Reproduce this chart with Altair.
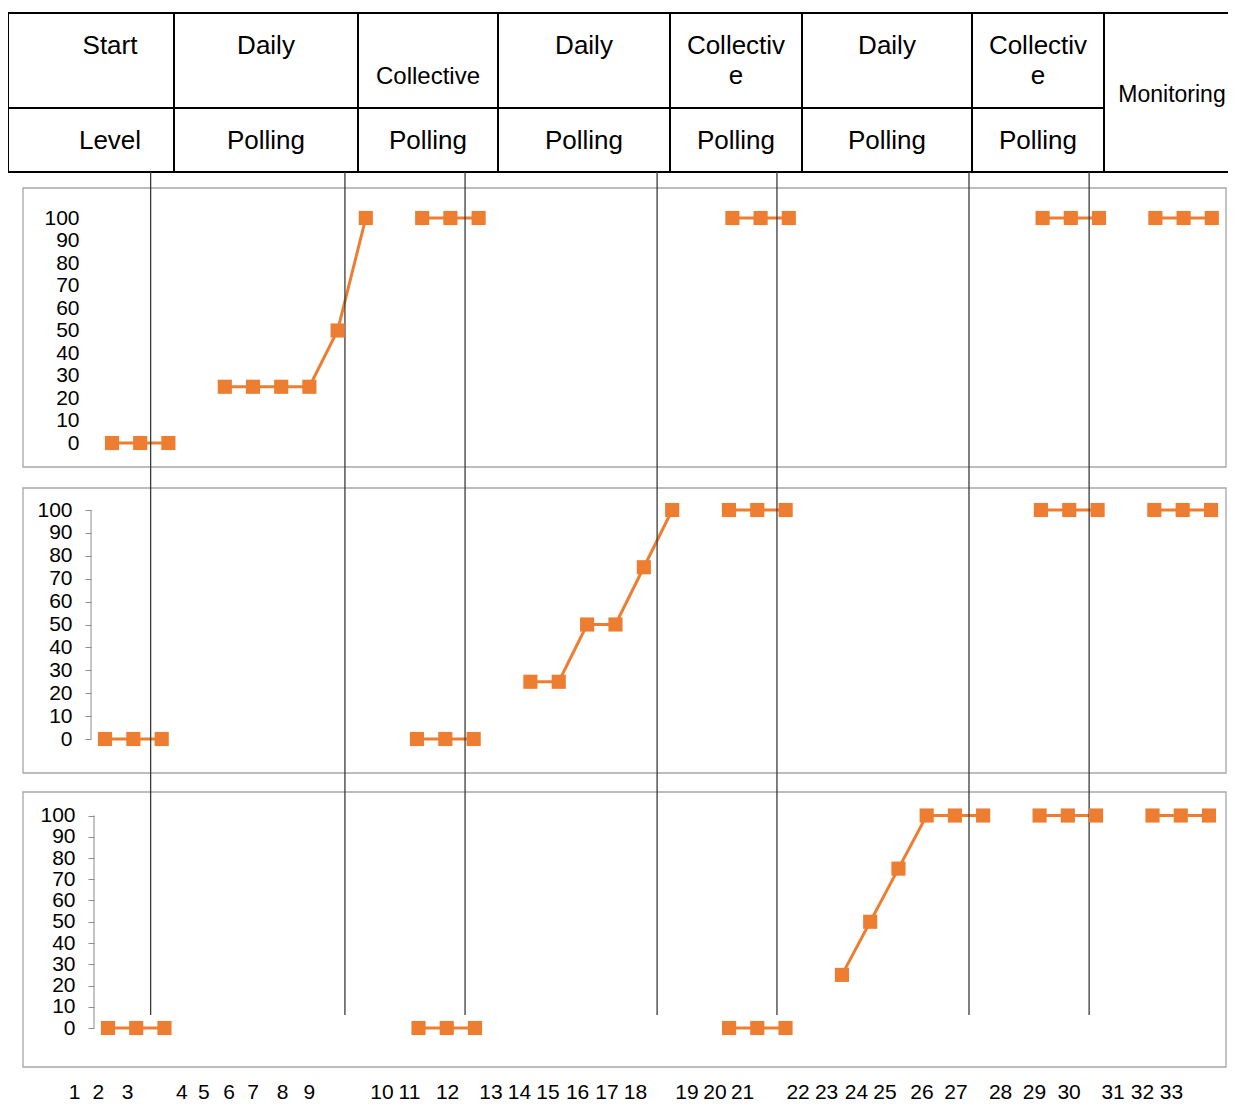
import altair as alt
import pandas as pd

# ---------------- data ----------------
N = None
# 40 category slots per tier (blank slots break the line)
tier1 = [0, 0, 0, N, 25, 25, 25, 25, 50, 100, N, 100, 100, 100,
         N, N, N, N, N, N, N, N, 100, 100, 100,
         N, N, N, N, N, N, N, N, 100, 100, 100, N, 100, 100, 100]
tier2 = [0, 0, 0, N, N, N, N, N, N, N, N, 0, 0, 0,
         N, 25, 25, 50, 50, 75, 100, N, 100, 100, 100,
         N, N, N, N, N, N, N, N, 100, 100, 100, N, 100, 100, 100]
tier3 = [0, 0, 0, N, N, N, N, N, N, N, N, 0, 0, 0,
         N, N, N, N, N, N, N, N, 0, 0, 0,
         N, 25, 50, 75, 100, 100, 100, N, 100, 100, 100, N, 100, 100, 100]

y_ticks = [0, 10, 20, 30, 40, 50, 60, 70, 80, 90, 100]

session_labels = ["1", "2", "3", "4", "5", "6", "7", "8", "9", "10", "11",
                  "12", "13", "14", "15", "16", "17", "18", "19", "20", "21",
                  "22", "23", "24", "25", "26", "27", "28", "29", "30", "31",
                  "32", "33"]
# label positions, in category-slot units (as placed in the original)
label_slots = [-1.33, -0.48, 0.55, 2.48, 3.26, 4.15, 5.00, 6.05, 7.00, 9.57,
               10.55, 11.90, 13.44, 14.45, 15.46, 16.51, 17.55, 18.56, 20.39,
               21.38, 22.36, 24.33, 25.34, 26.40, 27.41, 28.72, 29.93, 31.51,
               32.71, 33.94, 35.50, 36.54, 37.57]
# phase-change lines, in category-slot units
phase_slots = [1.37, 8.26, 12.52, 19.33, 23.58, 30.39, 34.65]

header_top = ["Start", "Daily", "Collective", "Daily", "Collectiv\ne",
              "Daily", "Collectiv\ne", "Monitoring"]
header_bottom = ["Level", "Polling", "Polling", "Polling", "Polling",
                 "Polling", "Polling", ""]

# ---------------- layout ----------------
W, H = 1220, 1095
OX, OY = 8, 8
FONT = "Liberation Sans"
ORANGE = "#ED7D31"
GRAY = "#A6A6A6"

col_edges = [8, 174, 358, 498, 670, 802, 972, 1104]
text_cx = [110, 266, 428, 584, 736, 887, 1038, 1172]
row_y = [13, 108, 172]

panels = [
    dict(x0=112, dx=28.2, y0=443, y100=218, box=(23, 188, 1226, 467),
         axis_x=85, ticks=False, pad=6),
    dict(x0=105, dx=28.36, y0=739, y100=510, box=(23, 488, 1226, 773),
         axis_x=91, ticks=True, pad=13),
    dict(x0=108, dx=28.23, y0=1028, y100=815.5, box=(23, 792, 1226, 1067),
         axis_x=94, ticks=True, pad=13),
]
tiers = [tier1, tier2, tier3]


def page_x():
    return alt.Scale(domain=[OX, OX + W], range=[0, W], zero=False, nice=False)


def page_y():
    return alt.Scale(domain=[OY, OY + H], range=[0, H], zero=False, nice=False)


def slot_x(p):
    return alt.Scale(domain=[(OX - p["x0"]) / p["dx"], (OX + W - p["x0"]) / p["dx"]],
                     zero=False, nice=False)


def val_y(p):
    k = (p["y0"] - p["y100"]) / 100.0
    return alt.Scale(domain=[(p["y0"] - OY - H) / k, (p["y0"] - OY) / k],
                     zero=False, nice=False)


layers = []

# panel frames
box_df = pd.DataFrame([dict(x0=p["box"][0], y0=p["box"][1], x1=p["box"][2], y1=p["box"][3])
                       for p in panels])
layers.append(
    alt.Chart(box_df).mark_rect(fill="white", fillOpacity=0, stroke=GRAY, strokeWidth=1.3)
    .encode(x=alt.X("x0:Q", scale=page_x(), axis=None), x2="x1:Q",
            y=alt.Y("y0:Q", scale=page_y(), axis=None), y2="y1:Q")
)

# header table lines
segs = [dict(x0=8, y0=row_y[0], x1=1245, y1=row_y[0]),
        dict(x0=8, y0=row_y[1], x1=col_edges[-1], y1=row_y[1]),
        dict(x0=8, y0=row_y[2], x1=1245, y1=row_y[2])]
for e in col_edges:
    segs.append(dict(x0=e, y0=row_y[0], x1=e, y1=row_y[2]))
seg_df = pd.DataFrame(segs)
layers.append(
    alt.Chart(seg_df).mark_rule(color="black", strokeWidth=2)
    .encode(x=alt.X("x0:Q", scale=page_x(), axis=None), x2="x1:Q",
            y=alt.Y("y0:Q", scale=page_y(), axis=None), y2="y1:Q")
)

# header texts
rows = []
for i, t in enumerate(header_top):
    if t == "Collective":
        rows.append(dict(text=t, x=text_cx[i], y=83.5, size=24))
    elif t == "Monitoring":
        rows.append(dict(text=t, x=text_cx[i], y=101.5, size=23))
    elif "\n" in t:
        a, b = t.split("\n")
        rows.append(dict(text=a, x=text_cx[i], y=54, size=26))
        rows.append(dict(text=b, x=text_cx[i], y=84, size=26))
    else:
        rows.append(dict(text=t, x=text_cx[i], y=54, size=26))
for i, t in enumerate(header_bottom):
    if t:
        rows.append(dict(text=t, x=text_cx[i], y=149, size=26))
head_df = pd.DataFrame(rows)
layers.append(
    alt.Chart(head_df).mark_text(font=FONT, color="black", align="center", baseline="alphabetic")
    .encode(x=alt.X("x:Q", scale=page_x(), axis=None),
            y=alt.Y("y:Q", scale=page_y(), axis=None),
            text="text:N", size=alt.Size("size:Q", scale=None, legend=None))
)

# tiers: lines
point_layers = []
for p, vals in zip(panels, tiers):
    seg, recs = 0, []
    for s, v in enumerate(vals):
        if v is None:
            seg += 1
        else:
            recs.append(dict(slot=s, value=v, seg=seg))
    df = pd.DataFrame(recs)
    layers.append(
        alt.Chart(df).mark_line(color=ORANGE, strokeWidth=3)
        .encode(x=alt.X("slot:Q", scale=slot_x(p), axis=None),
                y=alt.Y("value:Q", scale=val_y(p), axis=None),
                detail="seg:N")
    )
    if p["ticks"]:
        layers.append(
            alt.Chart(pd.DataFrame([dict(lo=y_ticks[0], hi=y_ticks[-1])]))
            .mark_rule(color="#8C8C8C", strokeWidth=1)
            .encode(x=alt.value(p["axis_x"] - OX),
                    y=alt.Y("lo:Q", scale=val_y(p), axis=None), y2="hi:Q")
        )
    axis = alt.Axis(orient="left", values=y_ticks, offset=-(p["axis_x"] - OX),
                    domain=False, ticks=p["ticks"], tickSize=6 if p["ticks"] else 0,
                    tickColor="#8C8C8C", tickWidth=1, labelPadding=p["pad"],
                    labelFont=FONT, labelFontSize=21, labelColor="black",
                    labelOverlap=False, grid=False, title=None)
    point_layers.append(
        alt.Chart(df).mark_point(shape="square", filled=True, size=200, color=ORANGE, opacity=1)
        .encode(x=alt.X("slot:Q", scale=slot_x(p), axis=None),
                y=alt.Y("value:Q", scale=val_y(p), axis=axis))
    )

# phase-change lines
layers.append(
    alt.Chart(pd.DataFrame(dict(slot=phase_slots))).mark_rule(color="#3A3A3A", strokeWidth=1.3)
    .encode(x=alt.X("slot:Q", scale=slot_x(panels[0]), axis=None),
            y=alt.value(172 - OY), y2=alt.value(1015 - OY))
)
layers.extend(point_layers)

# session labels
layers.append(
    alt.Chart(pd.DataFrame(dict(slot=label_slots, label=session_labels)))
    .mark_text(font=FONT, fontSize=21, color="black", align="center", baseline="middle")
    .encode(x=alt.X("slot:Q", scale=slot_x(panels[0]), axis=None),
            y=alt.value(1093 - OY), text="label:N")
)

chart = (
    alt.layer(*layers)
    .resolve_scale(x="independent", y="independent")
    .properties(width=W, height=H, padding=0, autosize=alt.AutoSizeParams(type="none"))
    .configure_view(stroke="transparent")
)

chart.save("out.html", embed_options={"renderer": "svg", "actions": False})
